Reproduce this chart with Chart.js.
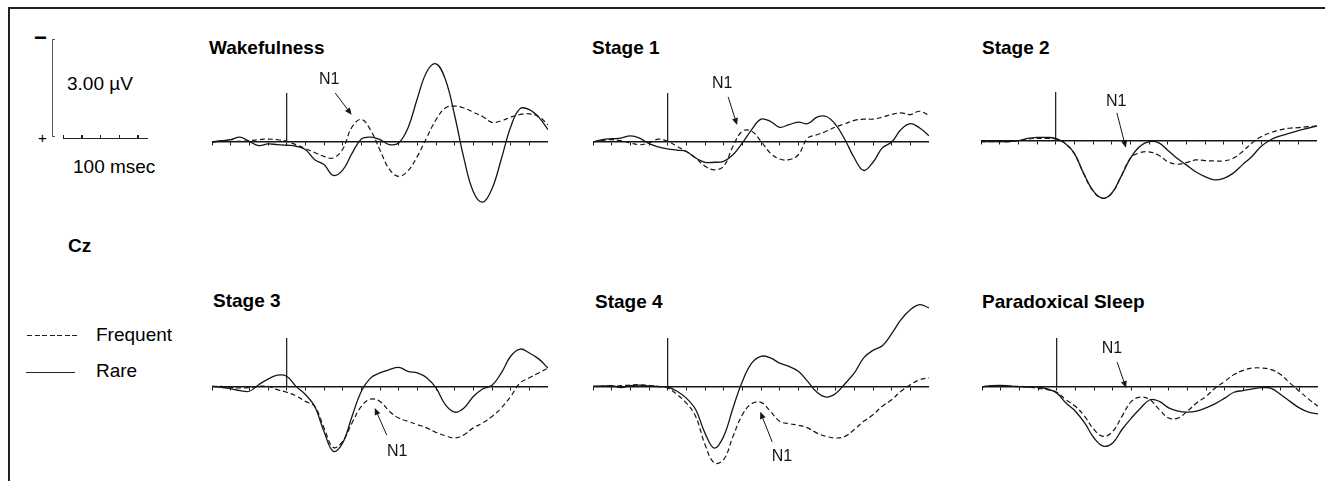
<!DOCTYPE html>
<html><head><meta charset="utf-8">
<script src="https://cdn.jsdelivr.net/npm/chart.js@4.4.1/dist/chart.umd.min.js"></script>
<style>
html,body{margin:0;padding:0;background:#fff;}
#page{position:relative;width:1325px;height:481px;overflow:hidden;font-family:"Liberation Sans",Arial,Helvetica,sans-serif;color:#000;}
#frame{position:absolute;left:8px;top:7px;width:1317px;height:474px;border-top:2px solid #231f20;border-left:2px solid #231f20;box-sizing:border-box;}
.t{position:absolute;white-space:nowrap;font-size:19px;line-height:19px;color:#000;}
.b{font-weight:bold;}
.panel{position:absolute;width:336px;}
.ln{position:absolute;}
</style></head>
<body>
<div id="page">
  <div id="frame"></div>
  <div id="texts"></div>
  <div id="scalebar"></div>
  <div id="panels"></div>
</div>
<script>
// ---------- data ----------
const timeMs = [-100,-87.5,-75,-62.5,-50,-37.5,-25,-12.5,0,12.5,25,37.5,50,62.5,75,87.5,100,112.5,125,137.5,150,162.5,175,187.5,200,212.5,225,237.5,250,262.5,275,287.5,300,312.5,325,337.5,350];

// µV, negative plotted upward
const rareWake = [0,-0.04,-0.07,-0.15,-0.02,0.11,0.06,0.08,0.10,0.13,0.23,0.54,0.69,1.02,0.86,0.35,-0.09,-0.15,-0.07,0.08,0.03,-0.43,-1.33,-2.14,-2.39,-1.92,-0.81,0.51,1.52,1.84,1.43,0.52,-0.46,-1.02,-0.99,-0.76,-0.38];
const freqWake = [0,-0.02,-0.02,-0.02,-0.04,-0.07,-0.09,-0.07,-0.02,0.08,0.20,0.32,0.44,0.49,0.22,-0.46,-0.69,-0.36,0.25,0.83,1.05,0.88,0.44,-0.13,-0.68,-1.04,-1.10,-1.04,-0.91,-0.78,-0.60,-0.65,-0.76,-0.84,-0.86,-0.78,-0.53];

const rareStage1 = [0,-0.07,-0.10,-0.12,-0.19,-0.12,0.05,0.15,0.21,0.25,0.29,0.49,0.62,0.62,0.59,0.39,0.03,-0.38,-0.70,-0.63,-0.45,-0.53,-0.61,-0.56,-0.76,-0.78,-0.53,-0.07,0.49,0.87,0.62,0.18,0,-0.38,-0.56,-0.43,-0.19];
const freqStage1 = [0,-0.05,-0.07,-0.04,0.03,0.08,0.03,-0.09,-0.02,0.13,0.29,0.49,0.74,0.85,0.74,0.13,-0.33,-0.33,-0.02,0.34,0.52,0.54,0.39,-0.12,-0.22,-0.33,-0.46,-0.56,-0.66,-0.70,-0.70,-0.76,-0.84,-0.89,-0.84,-0.94,-0.81];

const rareStage2 = [0.02,0.02,0.02,0.02,-0.01,-0.08,-0.11,-0.11,-0.08,0.07,0.38,0.99,1.52,1.75,1.60,1.09,0.53,0.17,0.02,0.05,0.28,0.53,0.73,0.94,1.09,1.19,1.14,0.99,0.73,0.48,0.17,-0.03,-0.15,-0.23,-0.32,-0.39,-0.46];
const freqStage2 = [0.02,0.02,0.02,0.02,-0.01,-0.06,-0.08,-0.08,-0.06,0.07,0.39,1.00,1.53,1.75,1.60,1.09,0.53,0.36,0.33,0.43,0.63,0.71,0.66,0.58,0.60,0.61,0.61,0.53,0.33,0.07,-0.13,-0.25,-0.34,-0.39,-0.41,-0.44,-0.46];

const rareStage3 = [-0.02,0.01,0.05,0.11,0.13,-0.07,-0.24,-0.36,-0.33,-0.02,0.23,0.59,1.36,1.97,1.71,0.90,0.13,-0.28,-0.43,-0.53,-0.60,-0.48,-0.43,-0.28,0.03,0.54,0.77,0.64,0.29,0.06,-0.05,-0.43,-0.94,-1.16,-1.04,-0.86,-0.58];
const freqStage3 = [-0.02,-0.02,0.01,0.03,0.02,-0.02,-0.02,0.08,0.16,0.27,0.44,0.59,1.25,1.85,1.66,1.10,0.59,0.37,0.44,0.74,0.95,1.05,1.15,1.25,1.39,1.49,1.56,1.46,1.25,1.10,0.90,0.64,0.29,-0.12,-0.28,-0.43,-0.58];

const rareStage4 = [-0.02,-0.03,-0.04,0.02,-0.04,-0.06,-0.03,-0.01,0,0.13,0.34,0.69,1.41,1.87,1.51,0.64,-0.17,-0.73,-0.94,-0.89,-0.73,-0.63,-0.48,-0.17,0.16,0.31,0.20,-0.10,-0.43,-0.89,-1.12,-1.26,-1.63,-2.06,-2.36,-2.52,-2.42];
const freqStage4 = [-0.02,-0.02,-0.01,-0.04,-0.06,-0.07,-0.05,-0.02,0.03,0.23,0.49,0.90,1.76,2.32,2.22,1.51,0.85,0.51,0.47,0.74,1.05,1.12,1.17,1.25,1.41,1.51,1.56,1.51,1.30,1.05,0.85,0.59,0.39,0.13,-0.07,-0.22,-0.28];

const rareParadoxical = [0,-0.04,-0.05,-0.03,-0.01,0,0,0.06,0.18,0.49,0.74,1.10,1.56,1.81,1.71,1.30,0.95,0.64,0.39,0.44,0.64,0.74,0.77,0.74,0.64,0.51,0.34,0.16,0.11,0.06,0.02,0.04,0.23,0.44,0.64,0.77,0.82];
const freqParadoxical = [0,-0.04,-0.04,-0.02,-0.02,0,0.04,0.08,0.16,0.39,0.59,0.90,1.30,1.51,1.36,0.90,0.44,0.31,0.39,0.69,0.95,0.95,0.74,0.49,0.29,0.03,-0.17,-0.38,-0.51,-0.58,-0.58,-0.53,-0.38,-0.12,0.13,0.37,0.59];

const panelTitles = ['Wakefulness','Stage 1','Stage 2','Stage 3','Stage 4','Paradoxical Sleep'];
const seriesLabels = ['Frequent','Rare'];
const timeRange = [-100, 350];
const tickStepMs = 25;
const stimMarkerUv = 1.5;
const scaleBarMs = [0,25,50,75,100];
const scaleBarUv = 3.00;

// N1 annotations in data coordinates [ms, µV]
const n1Label = [[57,-1.90],[73,-1.80],[81,-1.19],[148,1.99],[153,2.14],[74,-1.16]];
const n1From  = [[65,-1.50],[81,-1.38],[82,-0.86],[134,1.47],[140,1.68],[81,-0.76]];
const n1To    = [[87,-0.83],[93,-0.52],[94,0.21],[118,0.64],[124,0.76],[93,0.03]];

// ---------- layout / style ----------
const PX_PER_UV = 32.7;
const PX_PER_MS = 336/450;
const panelBoxes = [
  {left:212, axisY:142, bottom:230, titleX:209, titleY:38},
  {left:593, axisY:142, bottom:230, titleX:592, titleY:38},
  {left:981, axisY:141, bottom:230, titleX:982, titleY:38},
  {left:212, axisY:387, bottom:481, titleX:213, titleY:291},
  {left:593, axisY:387, bottom:481, titleX:595, titleY:291.5},
  {left:982, axisY:387, bottom:481, titleX:982, titleY:291.5}
];
const ABOVE = 87;
const INK = '#161616';
const seriesByPanel = [
  [freqWake, rareWake],[freqStage1, rareStage1],[freqStage2, rareStage2],
  [freqStage3, rareStage3],[freqStage4, rareStage4],[freqParadoxical, rareParadoxical]
];

const texts = document.getElementById('texts');
function addText(str, left, top, cls, extra){
  const s = document.createElement('span');
  s.className = 't ' + (cls||'');
  s.textContent = str;
  s.style.left = left + 'px'; s.style.top = top + 'px';
  if (extra) Object.assign(s.style, extra);
  texts.appendChild(s);
}
function addLine(left, top, w, h, bg){
  const d = document.createElement('div');
  d.className = 'ln';
  Object.assign(d.style, {left:left+'px', top:top+'px', width:w+'px', height:h+'px', background:bg});
  document.getElementById('scalebar').appendChild(d);
}

// side texts
addText(scaleBarUv.toFixed(2) + ' \u00B5V', 67, 73.5);
addText(scaleBarMs[scaleBarMs.length-1] + ' msec', 73, 157.4);
addText('\u2212', 34, 26.5, 'b', {fontSize:'22px', lineHeight:'22px'});
addText('+', 38, 130, '', {fontSize:'15px', lineHeight:'15px'});
addText('Cz', 68, 235.7, 'b');
addText(seriesLabels[0], 96, 324.5);
addText(seriesLabels[1], 96, 361);
panelTitles.forEach((t,i)=> addText(t, panelBoxes[i].titleX, panelBoxes[i].titleY, 'b'));

// scale bar
const vTop = 39, vLen = scaleBarUv * PX_PER_UV;
addLine(52, vTop, 1, vLen, '#555');
addLine(52, vTop, 3, 1, '#555');
addLine(52, vTop + vLen - 1, 3, 1, '#555');
const hx0 = 63, hy = 137.5;
addLine(hx0, hy, scaleBarMs[scaleBarMs.length-1]*PX_PER_MS + 10, 1.5, '#222');
scaleBarMs.forEach(ms => addLine(hx0 + ms*PX_PER_MS - 0.5, hy - 3, 1.5, 3, '#222'));
// legend samples
addLine(27, 334.5, 50, 1.3, 'repeating-linear-gradient(to right,#222 0 5px,transparent 5px 7.5px)');
addLine(26, 371.5, 49, 1.3, '#222');

// N1 annotation plugin
function n1Plugin(i){
  return {
    id: 'n1note',
    afterDatasetsDraw(chart){
      const {x, y} = chart.scales;
      const ctx = chart.ctx;
      const P = p => [x.getPixelForValue(p[0]), y.getPixelForValue(p[1])];
      const L = P(n1Label[i]), A = P(n1From[i]), B = P(n1To[i]);
      ctx.save();
      ctx.fillStyle = INK; ctx.strokeStyle = INK; ctx.lineWidth = 1;
      ctx.font = '16px "Liberation Sans", Arial, sans-serif';
      ctx.textAlign = 'center'; ctx.textBaseline = 'middle';
      ctx.fillText('N1', L[0], L[1]);
      const ang = Math.atan2(B[1]-A[1], B[0]-A[0]);
      const hl = 7, hw = 3;
      const bx = B[0] - hl*Math.cos(ang), by = B[1] - hl*Math.sin(ang);
      ctx.beginPath(); ctx.moveTo(A[0], A[1]); ctx.lineTo(bx, by); ctx.stroke();
      ctx.beginPath();
      ctx.moveTo(B[0], B[1]);
      ctx.lineTo(bx + hw*Math.sin(ang), by - hw*Math.cos(ang));
      ctx.lineTo(bx - hw*Math.sin(ang), by + hw*Math.cos(ang));
      ctx.closePath(); ctx.fill();
      ctx.restore();
    }
  };
}

// panels
const panelsEl = document.getElementById('panels');
panelBoxes.forEach((box, i) => {
  const top = box.axisY - ABOVE;
  const h = box.bottom - top;
  const wrap = document.createElement('div');
  wrap.className = 'panel';
  Object.assign(wrap.style, {left: box.left + 'px', top: top + 'px', height: h + 'px'});
  const cv = document.createElement('canvas');
  wrap.appendChild(cv);
  panelsEl.appendChild(wrap);
  const [freq, rare] = seriesByPanel[i];
  const pts = arr => timeMs.map((t, k) => ({x: t, y: arr[k]}));
  new Chart(cv, {
    type: 'line',
    data: {
      datasets: [
        {label: seriesLabels[0], data: pts(freq), borderColor: INK, borderWidth: 1.2, borderDash: [5,3], pointRadius: 0, tension: 0.4, fill: false},
        {label: seriesLabels[1], data: pts(rare), borderColor: INK, borderWidth: 1.3, pointRadius: 0, tension: 0.4, fill: false},
        {label: 'stimulus', data: [{x:0, y:0}, {x:0, y:-stimMarkerUv}], borderColor: INK, borderWidth: 1.2, pointRadius: 0, tension: 0, fill: false}
      ]
    },
    options: {
      animation: false, responsive: true, maintainAspectRatio: false,
      layout: {padding: 0},
      plugins: {legend: {display: false}, tooltip: {enabled: false}, title: {display: false}},
      scales: {
        x: {
          type: 'linear', min: timeRange[0], max: timeRange[1], position: {y: 0},
          ticks: {display: false, stepSize: tickStepMs},
          grid: {drawOnChartArea: false, drawTicks: true, tickLength: 3, color: INK, lineWidth: 1},
          border: {display: true, color: INK, width: 1.5},
          afterFit(s){ s.height = 0; }
        },
        y: {
          type: 'linear', display: false, reverse: true,
          min: -ABOVE / PX_PER_UV, max: (h - ABOVE) / PX_PER_UV
        }
      }
    },
    plugins: [n1Plugin(i)]
  });
});
</script>
</body></html>
